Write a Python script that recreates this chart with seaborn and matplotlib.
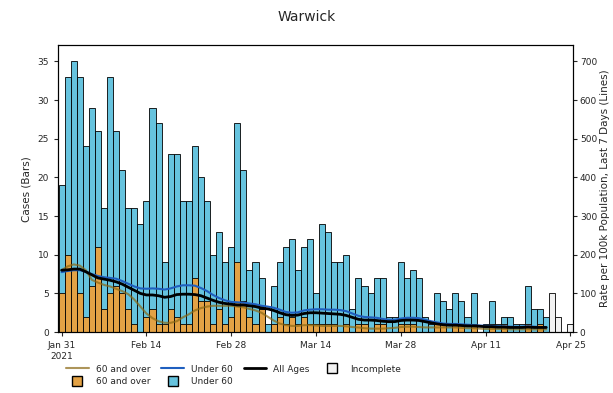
import matplotlib
matplotlib.use("Agg")
import pandas as pd
import matplotlib.pyplot as plt
import seaborn as sn
from matplotlib.lines import Line2D

# daily cases, Jan 31 2021 onwards (complete days)
cases_total = [19, 33, 35, 33, 24, 29, 26, 16, 33, 26, 21, 16, 16, 14,
               17, 29, 27, 9, 23, 23, 17, 17, 24, 20, 17, 10, 13, 9,
               11, 27, 21, 8, 9, 7, 1, 6, 9, 11, 12, 8, 11, 12,
               5, 14, 13, 9, 9, 10, 3, 7, 6, 5, 7, 7, 2, 2,
               9, 7, 8, 7, 2, 1, 5, 4, 3, 5, 4, 2, 5, 0,
               1, 4, 1, 2, 2, 1, 1, 6, 3, 3, 2]
cases_60_plus = [5, 10, 8, 5, 2, 6, 11, 3, 5, 6, 5, 3, 1, 0,
                 2, 3, 1, 1, 3, 2, 1, 1, 7, 4, 4, 1, 3, 1,
                 2, 9, 4, 2, 1, 3, 0, 1, 2, 1, 2, 1, 2, 1,
                 1, 1, 1, 1, 0, 1, 0, 1, 1, 0, 1, 1, 0, 0,
                 1, 1, 1, 0, 0, 0, 1, 1, 0, 1, 1, 0, 1, 0,
                 0, 1, 0, 1, 0, 0, 0, 1, 0, 1, 0]
# last days, still incomplete
cases_incomplete = [5, 2, 0, 1]

# rate per 100k, last 7 days
rate_60_plus = [160, 170, 175, 172, 160, 135, 128, 122, 118, 112, 106, 98, 84, 66,
                48, 36, 28, 24, 24, 28, 38, 46, 56, 62, 66, 68, 68, 68,
                68, 66, 64, 60, 56, 50, 40, 30, 22, 18, 16, 16, 18, 18,
                17, 16, 16, 16, 16, 15, 13, 12, 10, 9, 9, 9, 10, 11,
                13, 14, 14, 13, 12, 12, 12, 12, 12, 12, 11, 10, 10, 9,
                8, 8, 8, 8, 7, 7, 7, 7, 7, 7, 7]
rate_under_60 = [155, 158, 160, 160, 156, 150, 145, 142, 140, 138, 132, 125, 118, 113,
                 112, 113, 112, 110, 113, 118, 121, 121, 120, 114, 106, 96, 88, 82,
                 78, 77, 76, 74, 72, 68, 66, 63, 58, 52, 50, 51, 56, 58,
                 59, 59, 58, 58, 57, 54, 48, 42, 39, 38, 37, 34, 32, 32,
                 35, 37, 37, 36, 32, 28, 25, 22, 21, 21, 20, 19, 18, 17,
                 16, 16, 15, 15, 14, 14, 14, 15, 14, 13, 13]
rate_all = [160, 161, 163, 163, 156, 148, 140, 137, 134, 130, 124, 116, 108, 100,
            96, 96, 94, 90, 92, 97, 98, 98, 97, 94, 88, 82, 77, 74,
            72, 70, 70, 68, 66, 62, 60, 56, 50, 45, 43, 44, 48, 50,
            50, 49, 48, 47, 46, 43, 38, 33, 31, 31, 30, 28, 27, 27,
            30, 31, 31, 30, 27, 24, 21, 19, 18, 18, 17, 16, 16, 15,
            14, 14, 13, 13, 12, 12, 12, 13, 12, 12, 12]

tick_labels = ["Jan 31\n2021", "Feb 14", "Feb 28", "Mar 14", "Mar 28", "Apr 11", "Apr 25"]

ORANGE = "#e3a245"
BLUE = "#66c3de"
LINE_OLD = "#8b6914"
LINE_YOUNG = "#1f5fbf"
INCOMPLETE = "#f2f2f2"

n_full = len(cases_total)
days = list(range(n_full + len(cases_incomplete)))

df_full = pd.DataFrame({"day": days[:n_full], "total": cases_total, "old": cases_60_plus})
df_inc = pd.DataFrame({"day": days[n_full:], "cases": cases_incomplete})
df_inc = df_inc[df_inc["cases"] > 0]
df_rate = pd.DataFrame({"day": days[:n_full], "old": rate_60_plus,
                        "young": rate_under_60, "all": rate_all})

sn.set_style("ticks")
plt.rcParams["font.family"] = ["DejaVu Sans"]

fig = plt.figure(figsize=(6.13, 3.93), dpi=100)
ax1 = fig.add_axes([0.0946, 0.155, 0.840, 0.730])

bar_kw = dict(order=days, width=1.0, edgecolor="black", linewidth=0.6,
              saturation=1, ax=ax1, errorbar=None)
sn.barplot(data=df_full, x="day", y="total", color=BLUE, **bar_kw)
sn.barplot(data=df_full, x="day", y="old", color=ORANGE, **bar_kw)
sn.barplot(data=df_inc, x="day", y="cases", color=INCOMPLETE, **bar_kw)

ax1.set_ylim(0, 37.1)
ax1.set_yticks(range(0, 36, 5))
ax1.set_ylabel("Cases (Bars)", fontsize=7.5)
ax1.set_xlabel("")

ax2 = ax1.twinx()
sn.lineplot(data=df_rate, x="day", y="old", color=LINE_OLD, alpha=0.7, linewidth=1.5, ax=ax2)
sn.lineplot(data=df_rate, x="day", y="young", color=LINE_YOUNG, linewidth=1.5, ax=ax2)
sn.lineplot(data=df_rate, x="day", y="all", color="black", linewidth=2, ax=ax2)
ax2.set_ylim(0, 742)
ax2.set_yticks(range(0, 701, 100))
ax2.set_ylabel("Rate per 100k Population, Last 7 Days (Lines)", fontsize=7.5, labelpad=2)

ax1.set_xlim(-0.6, 84.4)
ax1.set_xticks(range(0, 85, 14))
ax1.set_xticklabels(tick_labels)
ax1.tick_params(labelsize=6.5, length=3)
ax2.tick_params(labelsize=6.5, length=3, pad=2)
for ax in (ax1, ax2):
    for s in ax.spines.values():
        s.set_visible(True)
        s.set_color("black")
        s.set_linewidth(0.8)

fig.suptitle("Warwick", x=0.5, y=0.975, fontsize=10)

handles = [
    Line2D([], [], color=LINE_OLD, alpha=0.7, lw=1.5),
    Line2D([], [], marker="s", ls="none", markersize=7, markerfacecolor=ORANGE, markeredgecolor="black"),
    Line2D([], [], color=LINE_YOUNG, lw=1.5),
    Line2D([], [], marker="s", ls="none", markersize=7, markerfacecolor=BLUE, markeredgecolor="black"),
    Line2D([], [], color="black", lw=2),
    Line2D([], [], marker="s", ls="none", markersize=7, markerfacecolor=INCOMPLETE, markeredgecolor="black"),
]
labels = ["60 and over", "60 and over", "Under 60", "Under 60", "All Ages", "Incomplete"]
ax2.legend(handles, labels, ncol=4, loc="upper left", bbox_to_anchor=(0.0, -0.085),
           frameon=False, fontsize=6.5, handlelength=2.5, columnspacing=1.2,
           labelspacing=0.4)

fig.savefig("out.png", dpi=100)
